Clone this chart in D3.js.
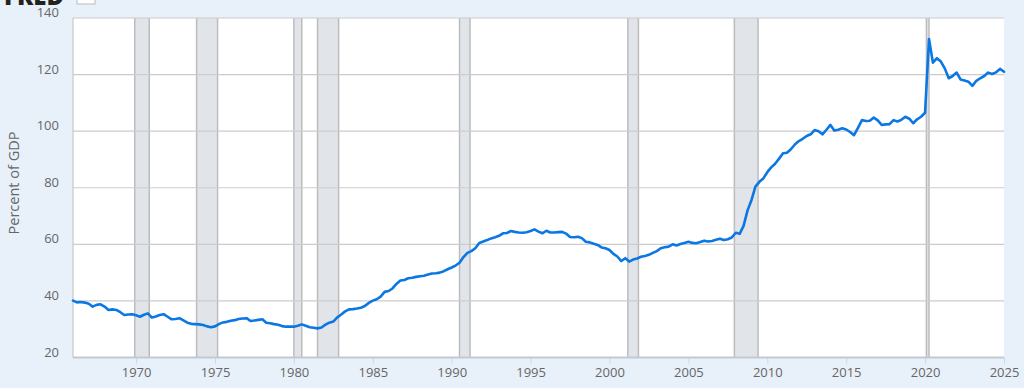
<!DOCTYPE html>
<html>
<head>
<meta charset="utf-8">
<script src="https://cdn.jsdelivr.net/npm/d3@7"></script>
<style>
	html, body { margin: 0; padding: 0; background: #e8f0fa; }
	svg { display: block; font-family: "Open Sans", sans-serif; }
</style>
</head>
<body>
<svg id="chart" width="1024" height="388"></svg>
<script>
// quarterly values, 1966 Q1 .. 2025 Q1
const startYear = 1966;
const debtToGdp = [
	40.1, 39.5, 39.6, 39.4,  39.0, 38.0, 38.6, 38.8,  38.0, 36.8, 37.0, 36.8,  36.0, 35.0, 35.2, 35.3,
	34.9, 34.4, 35.1, 35.6,  34.1, 34.5, 35.0, 35.3,  34.4, 33.5, 33.6, 33.9,  33.1, 32.3, 31.9, 31.8,
	31.7, 31.5, 31.0, 30.7,  31.0, 31.8, 32.4, 32.6,  33.0, 33.2, 33.6, 33.8,  33.9, 32.9, 33.1, 33.3,
	33.5, 32.3, 32.1, 31.8,  31.6, 31.1, 30.9, 30.9,  30.9, 31.2, 31.7, 31.2,  30.7, 30.5, 30.3, 30.6,
	31.6, 32.3, 32.7, 34.2,  35.2, 36.3, 37.0, 37.1,  37.3, 37.6, 38.2, 39.3,  40.1, 40.6, 41.5, 43.2,
	43.5, 44.4, 46.0, 47.2,  47.4, 48.0, 48.2, 48.5,  48.7, 48.9, 49.3, 49.7,  49.8, 50.0, 50.5, 51.2,
	51.8, 52.5, 53.5, 55.5,  57.0, 57.6, 58.6, 60.5,  61.0, 61.5, 62.1, 62.5,  63.0, 63.9, 64.0, 64.7,
	64.4, 64.2, 64.1, 64.3,  64.7, 65.3, 64.5, 63.9,  64.8, 64.2, 64.2, 64.3,  64.4, 63.8, 62.6, 62.5,
	62.7, 62.2, 60.9, 60.7,  60.2, 59.8, 58.9, 58.6,  58.0, 56.6, 55.7, 54.1,  55.1, 53.9, 54.6, 55.0,
	55.6, 55.9, 56.3, 57.0,  57.6, 58.6, 59.0, 59.2,  60.0, 59.6, 60.1, 60.5,  60.9, 60.5, 60.4, 60.8,
	61.3, 61.0, 61.2, 61.6,  62.0, 61.5, 61.8, 62.4,  64.1, 63.7, 66.5, 72.0,  75.7, 80.4, 82.1, 83.3,
	85.5, 87.2, 88.5, 90.3,  92.2, 92.4, 93.6, 95.3,  96.5, 97.3, 98.3, 98.9,  100.4, 100.0, 98.9, 100.5,
	102.2, 100.2, 100.5, 101.0,  100.6, 99.7, 98.6, 101.2,  103.9, 103.6, 103.7, 104.8,  103.8, 102.2, 102.4, 102.5,
	103.9, 103.4, 104.0, 105.1,  104.4, 102.8, 104.2, 105.1,  106.5, 132.6, 124.2, 125.8,  124.6, 122.2, 118.7, 119.5,
	120.7, 118.3, 117.9, 117.5,  116.0, 117.8, 118.7, 119.5,  120.7, 120.2, 120.8, 122.0,  121.0
];

// NBER recessions
const recessionStarts = ["1969-12-01", "1973-11-01", "1980-01-01", "1981-07-01", "1990-07-01", "2001-03-01", "2007-12-01", "2020-02-01"];
const recessionEnds   = ["1970-11-01", "1975-03-01", "1980-07-01", "1982-11-01", "1991-03-01", "2001-11-01", "2009-06-01", "2020-04-01"];

const yTicks = [20, 40, 60, 80, 100, 120, 140];
const xTickYears = [1970, 1975, 1980, 1985, 1990, 1995, 2000, 2005, 2010, 2015, 2020, 2025];
const yAxisTitle = "Percent of GDP";

const WIDTH = 1024, HEIGHT = 388;
const margin = { top: 18, right: 20, bottom: 30.5, left: 73 };

const parse = d3.timeParse("%Y-%m-%d");
const points = debtToGdp.map((v, i) => ({
	date: new Date(startYear + Math.floor(i / 4), (i % 4) * 3, 1),
	value: v
}));

const svg = d3.select("#chart");

const x = d3.scaleTime()
	.domain([new Date(1966, 0, 1), new Date(2025, 0, 1)])
	.range([margin.left, WIDTH - margin.right]);

const y = d3.scaleLinear()
	.domain([20, 140])
	.range([HEIGHT - margin.bottom, margin.top]);

// cut-off logo at the very top
svg.append("text")
	.attr("x", 64)
	.attr("y", 5)
	.attr("text-anchor", "end")
	.attr("font-size", 24)
	.attr("font-weight", 900)
	.attr("fill", "#222")
	.text("FRED");
svg.append("rect")
	.attr("x", 77).attr("y", -10)
	.attr("width", 18).attr("height", 14)
	.attr("fill", "#fff")
	.attr("stroke", "#bbb");

// plot area
svg.append("rect")
	.attr("x", margin.left)
	.attr("y", margin.top)
	.attr("width", WIDTH - margin.left - margin.right)
	.attr("height", HEIGHT - margin.top - margin.bottom)
	.attr("fill", "#fff");

// recession bands
const bands = svg.append("g").attr("class", "recessions");
recessionStarts.forEach((s, i) => {
	const x0 = x(parse(s)), x1 = x(parse(recessionEnds[i]));
	bands.append("rect")
		.attr("x", x0).attr("y", margin.top)
		.attr("width", x1 - x0)
		.attr("height", HEIGHT - margin.top - margin.bottom)
		.attr("fill", "#e1e5ea");
	[x0, x1].forEach(xx => {
		bands.append("line")
			.attr("x1", xx).attr("x2", xx)
			.attr("y1", margin.top).attr("y2", HEIGHT - margin.bottom)
			.attr("stroke", "#bcbcbc")
			.attr("stroke-width", 1.5);
	});
});

// horizontal grid
svg.append("g")
	.selectAll("line")
	.data(yTicks.filter(t => t > 20))
	.join("line")
	.attr("x1", margin.left).attr("x2", WIDTH - margin.right)
	.attr("y1", d => y(d)).attr("y2", d => y(d))
	.attr("stroke", "#cccccc")
	.attr("stroke-width", 1.2);

// left border
svg.append("line")
	.attr("x1", margin.left).attr("x2", margin.left)
	.attr("y1", margin.top).attr("y2", HEIGHT - margin.bottom)
	.attr("stroke", "#c0c0c0");

// y axis labels
svg.append("g")
	.selectAll("text")
	.data(yTicks)
	.join("text")
	.attr("x", 59)
	.attr("y", d => y(d) - 1)
	.attr("text-anchor", "end")
	.attr("font-size", 13)
	.attr("fill", "#666")
	.text(d => d);

svg.append("text")
	.attr("transform", "translate(19," + 183 + ") rotate(-90)")
	.attr("text-anchor", "middle")
	.attr("font-size", 14.5)
	.attr("fill", "#666")
	.text(yAxisTitle);

// x axis
const xAxis = svg.append("g")
	.attr("transform", "translate(0," + (HEIGHT - margin.bottom) + ")")
	.call(d3.axisBottom(x)
		.tickValues(xTickYears.map(yr => new Date(yr, 0, 1)))
		.tickFormat(d3.timeFormat("%Y"))
		.tickSize(6)
		.tickPadding(4));
xAxis.select(".domain").remove();
xAxis.selectAll(".tick line").attr("stroke", "#ccd6eb");
xAxis.selectAll(".tick text")
	.attr("font-family", "Open Sans, sans-serif")
	.attr("font-size", 13)
	.attr("fill", "#666");

svg.append("line")
	.attr("x1", margin.left).attr("x2", WIDTH - margin.right)
	.attr("y1", HEIGHT - margin.bottom).attr("y2", HEIGHT - margin.bottom)
	.attr("stroke", "#c2c9d2")
	.attr("stroke-width", 2);

// the series
const line = d3.line()
	.x(d => x(d.date))
	.y(d => y(d.value));

svg.append("path")
	.datum(points)
	.attr("d", line)
	.attr("fill", "none")
	.attr("stroke", "#0b77e3")
	.attr("stroke-width", 2.6)
	.attr("stroke-linejoin", "round")
	.attr("stroke-linecap", "round");
</script>
</body>
</html>
